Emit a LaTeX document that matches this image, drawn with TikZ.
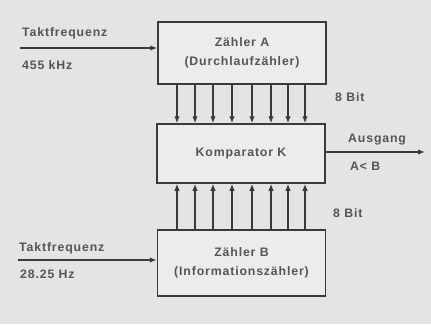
\documentclass[tikz,border=0pt]{standalone}
\usepackage{fontspec}
\setmainfont{Liberation Sans}
\newfontfamily\schrift{Liberation Sans}[LetterSpace=7]
\usetikzlibrary{arrows.meta}

\definecolor{paper}{RGB}{228,228,226}
\definecolor{ink}{RGB}{58,58,58}
\definecolor{schwarz}{RGB}{85,85,85}

\tikzset{
  block/.style={draw=ink, line width=1.5pt, fill=paper!70!white, minimum width=168pt,
    align=center, font=\schrift\bfseries\fontsize{12.3}{19}\selectfont, text=schwarz},
  lbl/.style={anchor=west, inner sep=0pt, font=\schrift\bfseries\fontsize{12.3}{15}\selectfont, text=schwarz},
  sig/.style={draw=ink, line width=1.3pt, -{Latex[length=7pt,width=5.5pt]}}
}

\begin{document}
\begin{tikzpicture}[x=1pt, y=-1pt]

    % paper background
    \fill[paper] (0,0) rectangle (431,324);
    \useasboundingbox (0,0) rectangle (431,324);

    % counters and comparator
    \node[block, minimum height=62pt] (zaehlerA) at (242,53) {Zähler A\\(Durchlaufzähler)};
    \node[block, minimum height=59pt] (komp) at (241,153.5) {Komparator K};
    \node[block, minimum height=66pt] (zaehlerB) at (241.5,263) {Zähler B\\(Informationszähler)};

    % clock inputs
    \coordinate (inA) at (20,48);
    \coordinate (inB) at (18,260);
    \draw[sig] (inA) -- (zaehlerA.west |- inA);
    \draw[sig] (inB) -- (zaehlerB.west |- inB);
    \node[lbl] (taktA) at (22,33) {Taktfrequenz};
    \node[lbl] (freqA) at (22,65) {455 kHz};
    \node[lbl] (taktB) at (19,248) {Taktfrequenz};
    \node[lbl] (freqB) at (20,274) {28.25 Hz};

    % 8 bit buses
    \foreach \x in {177,195,213,232,252,271,288,305} {
        \draw[sig] (zaehlerA.south -| \x,0) -- (komp.north -| \x,0);
        \draw[sig] (zaehlerB.north -| \x,0) -- (komp.south -| \x,0);
    }
    \node[lbl] (bitA) at (335,97) {8 Bit};
    \node[lbl] (bitB) at (333,213) {8 Bit};

    % output
    \coordinate (out) at (425,152);
    \draw[sig] (komp.east |- out) -- (out);
    \node[lbl] (ausgang) at (348,140) {Ausgang};
    \node[lbl] (cond) at (350,166) {A< B};

\end{tikzpicture}
\end{document}
